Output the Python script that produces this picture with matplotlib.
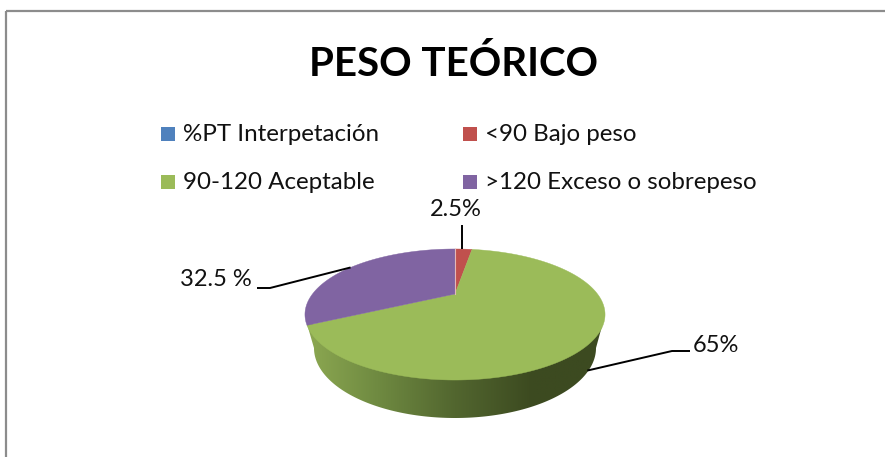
import numpy as np
import matplotlib
matplotlib.use("Agg")
import matplotlib.pyplot as plt
from matplotlib.colors import LinearSegmentedColormap
from matplotlib.patches import Polygon, Rectangle

plt.rcParams['font.family'] = ['Lato', 'DejaVu Sans']

title = 'PESO TEÓRICO'
categories = ['%PT Interpetación', '<90 Bajo peso', '90-120 Aceptable', '>120 Exceso o sobrepeso']
values = [0, 2.5, 65, 32.5]
value_labels = ['', '2.5%', '65%', '32.5 %']
colors = ['#4f81bd', '#c0504d', '#9bbb59', '#8064a2']

# pie geometry in pixels, the disc is a circle seen in perspective
cx, cy = 455, 294
a, b, k = 142.5, 59.1, 0.313
low_cy, low_a, low_b = 348, 141, 70


def rim(pct):
    """Pixel position on the top rim, pct runs clockwise from 12 o'clock."""
    t = np.radians(np.asarray(pct, dtype=float) * 3.6)
    x, y = np.sin(t), np.cos(t)
    w = 1 + k * y
    return cx + a * x / w, cy - b * y / w


fig = plt.figure(figsize=(8.85, 4.57), dpi=100)
ax = fig.add_axes([0, 0, 1, 1])
ax.set_xlim(0, 885)
ax.set_ylim(457, 0)
ax.axis('off')

ax.add_patch(Rectangle((6, 10.5), 900, 470, fill=False, ec='#8c8c8c', lw=1.6))

ax.text(453.5, 64, title, fontsize=29, fontweight='bold', ha='center', va='center')

# legend
legend_x = [161, 463]
legend_y = [133.5, 181.5]
for i, cat in enumerate(categories):
    lx, ly = legend_x[i % 2], legend_y[i // 2]
    ax.add_patch(Rectangle((lx, ly - 7), 14, 14, fc=colors[i], ec='none'))
    ax.text(lx + 22, ly + 1, cat, fontsize=17.4, va='center', ha='left', color='#111111')

# side wall, drawn first, the disc covers its top
t = np.linspace(0, np.pi, 200)
wall_x = cx + low_a * np.cos(t)
wall_y = low_cy + low_b * np.sin(t)
outline = np.r_[np.c_[wall_x, wall_y], [[307, 324]], [[602, 326]]]
wall_cmap = LinearSegmentedColormap.from_list('wall', ['#8fab53', '#6f8a41', '#52662f', '#3c4a20', '#3c4a20'])
grad = ax.imshow(np.linspace(0, 1, 256)[None, :], extent=(300, 610, 420, 300), cmap=wall_cmap,
                 aspect='auto', zorder=1)
wall = Polygon(outline, closed=True, fc='none', ec='none', zorder=1)
ax.add_patch(wall)
grad.set_clip_path(wall)
ax.set_xlim(0, 885)
ax.set_ylim(457, 0)

# top disc
start = 0
mids = []
for val, col in zip(values, colors):
    mids.append(start + val / 2)
    if val > 0:
        xs, ys = rim(np.linspace(start, start + val, 200))
        ax.add_patch(Polygon(np.c_[np.r_[cx, xs], np.r_[cy, ys]], closed=True, fc=col, ec=col, lw=0.3, zorder=2))
    start += val
xs, ys = rim([0, 0])
ax.plot([cx, xs[0]], [cy, ys[0]], color='#e3b9b8', lw=0.8, zorder=3)

# leader lines and value labels
line_kw = dict(color='black', lw=1.4, zorder=4, solid_capstyle='butt')
rx, ry = rim(mids[1])
ax.plot([rx - 2, rx - 2], [ry, 225], **line_kw)
ax.text(456, 209, value_labels[1], fontsize=17, ha='center', va='center', color='#111111')

rx, ry = rim(mids[3])
ax.plot([rx, 270, 257], [ry, 288, 288], **line_kw)
ax.text(216, 280, value_labels[3], fontsize=17, ha='center', va='center', color='#111111')

rx, ry = rim(mids[2])
ax.plot([rx - 9, 672, 690], [ry + 34, 351, 351], **line_kw)
ax.text(716, 345, value_labels[2], fontsize=17, ha='center', va='center', color='#111111')

fig.savefig('out.png', dpi=100)
